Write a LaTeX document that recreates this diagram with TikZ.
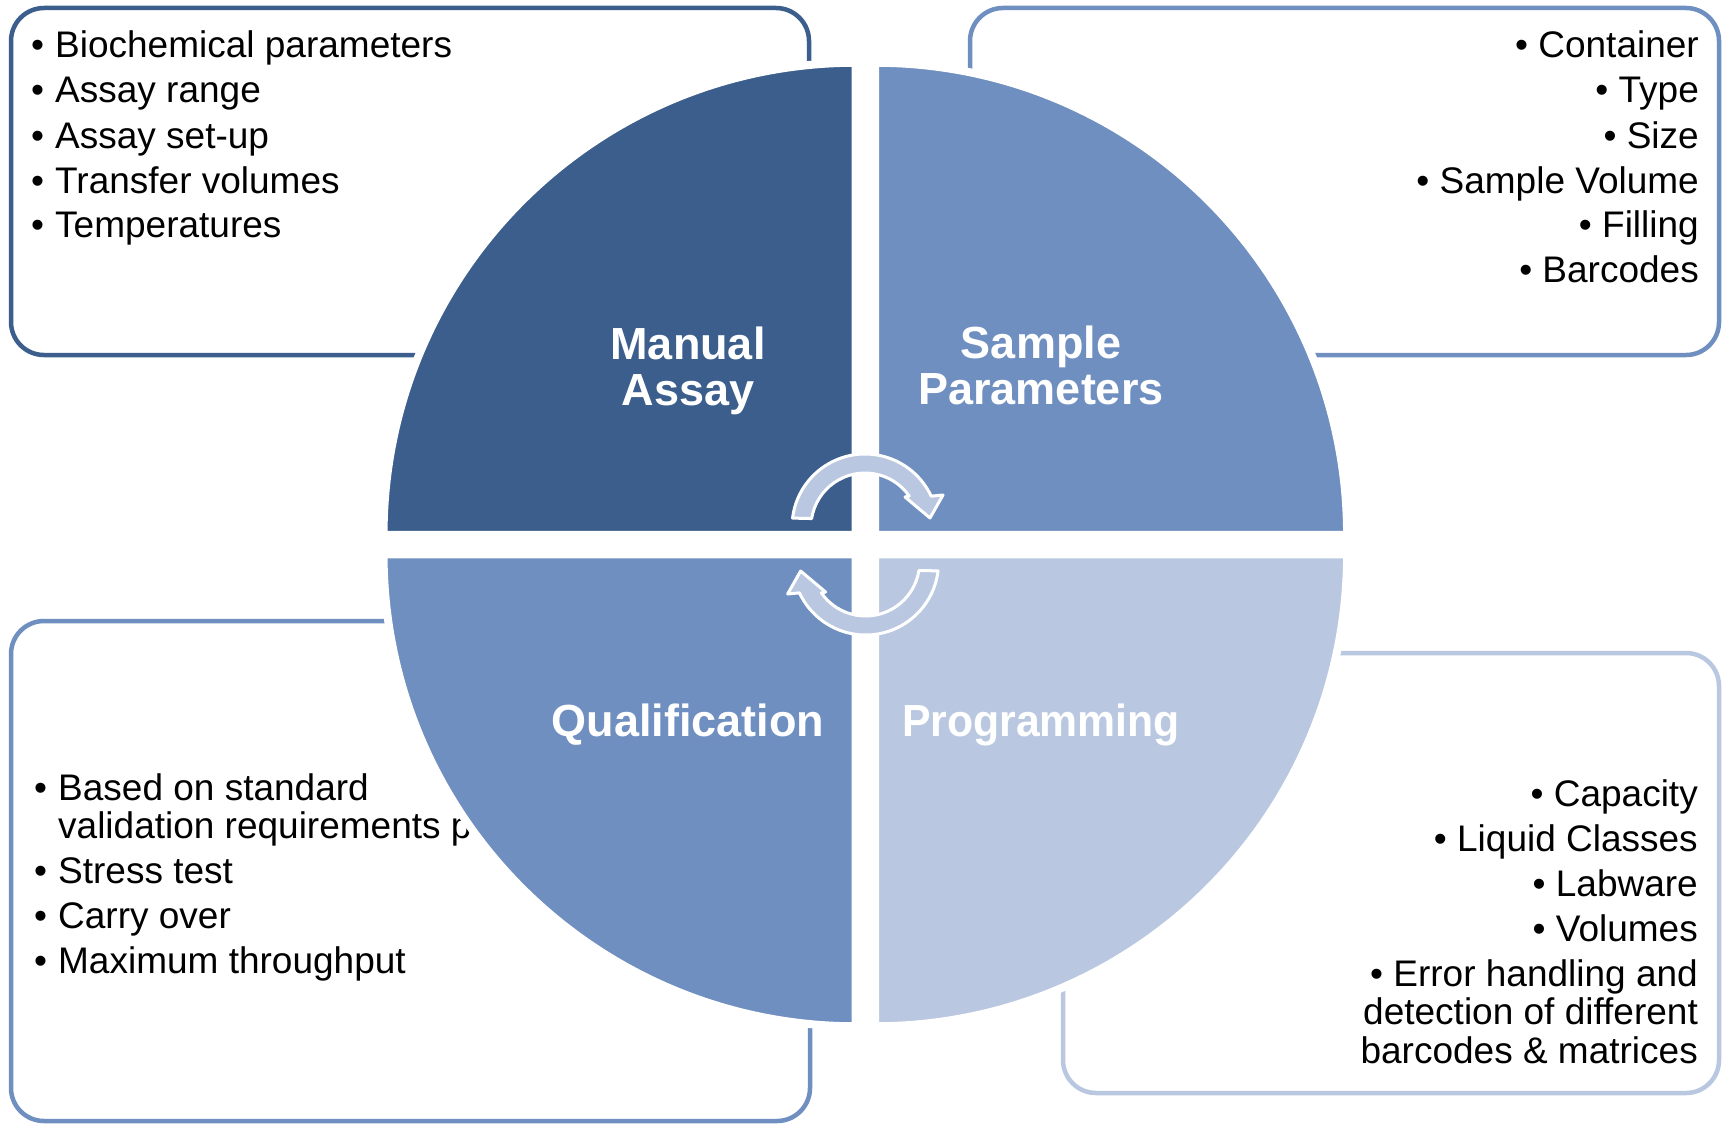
\documentclass[tikz,border=0pt]{standalone}
\usepackage{fontspec}
\setmainfont{Liberation Sans}
\usetikzlibrary{calc}
\definecolor{cdark}{HTML}{3B5E8C}
\definecolor{cmid}{HTML}{6F8FC0}
\definecolor{clight}{HTML}{B9C8E0}
\begin{document}
\begin{tikzpicture}[x=1pt,y=-1pt,
  box/.style={rounded corners=33pt, line width=4.5pt},
  quad/.style={draw=white, line width=8pt},
  listtxt/.style={inner sep=0pt, font=\fontsize{37}{38.5}\selectfont},
  qlabel/.style={text=white, font=\fontsize{45}{46}\selectfont\bfseries, align=center, inner sep=0pt},
  cyc/.style={fill=clight, draw=white, line width=3pt, line join=round}]
\useasboundingbox (0,0) rectangle (1723,1124);
\fill[white] (0,0) rectangle (1723,1124);

% boxes
\draw[box, cdark] (11,8) rectangle (809,355);
\draw[box, cmid] (970,8) rectangle (1719,355);
\draw[box, cmid] (11,621) rectangle (810,1121);
\draw[box, clight] (1063,653) rectangle (1719,1093);

% lists
\node[listtxt, anchor=base west] (tl) at (31,58) {\begin{tabular}[t]{@{}p{24pt}@{}l@{}}
•&Biochemical parameters\\[6.5pt]
•&Assay range\\[6.5pt]
•&Assay set-up\\[6.5pt]
•&Transfer volumes\\[6.5pt]
•&Temperatures
\end{tabular}};

\node[listtxt, anchor=base east] (tr) at (1699,58) {\begin{tabular}[t]{@{}r@{}}
• Container\\[6.5pt]
• Type\\[6.5pt]
• Size\\[6.5pt]
• Sample Volume\\[6.5pt]
• Filling\\[6.5pt]
• Barcodes
\end{tabular}};

\node[listtxt, anchor=base west] (bl) at (34,800) {\begin{tabular}[t]{@{}p{24pt}@{}l@{}}
•&Based on standard\\
&validation requirements p\\[6.5pt]
•&Stress test\\[6.5pt]
•&Carry over\\[6.5pt]
•&Maximum throughput
\end{tabular}};

\node[listtxt, anchor=base east] (br) at (1698,806) {\begin{tabular}[t]{@{}r@{}}
• Capacity\\[6.5pt]
• Liquid Classes\\[6.5pt]
• Labware\\[6.5pt]
• Volumes\\[6.5pt]
• Error handling and\\
detection of different\\
barcodes \& matrices
\end{tabular}};

% quadrants
\filldraw[quad, fill=cdark] (855.55,534.75) -- ++(-472,0) arc[start angle=180,end angle=270,radius=472] -- cycle;
\filldraw[quad, fill=cmid] (875.05,534.75) -- ++(0,-472) arc[start angle=270,end angle=360,radius=472] -- cycle;
\filldraw[quad, fill=clight] (875.05,554.25) -- ++(472,0) arc[start angle=0,end angle=90,radius=472] -- cycle;
\filldraw[quad, fill=cmid] (855.55,554.25) -- ++(0,472) arc[start angle=90,end angle=180,radius=472] -- cycle;

% labels
\node[qlabel] (manual) at (688,370.5) {Manual\\Assay};
\node[qlabel] (sample) at (1041,365) {Sample\\Parameters};
\node[qlabel] (qual) at (688,724.5) {Qualification};
\node[qlabel] (prog) at (1041,724.5) {\scalebox{0.95}[1]{Programming}};

% cycle arrows
\filldraw[cyc] (865,527) ++(187:73) arc[start angle=187,end angle=335,radius=73]
  -- (943,495) -- (930,518) -- (905,497) -- ($(865,527)+(325:54)$)
  arc[start angle=325,end angle=189,radius=54] -- cycle;
\begin{scope}[rotate around={180:(865.3,544.5)}]
\filldraw[cyc] (865,527) ++(187:73) arc[start angle=187,end angle=335,radius=73]
  -- (943,495) -- (930,518) -- (905,497) -- ($(865,527)+(325:54)$)
  arc[start angle=325,end angle=189,radius=54] -- cycle;
\end{scope}
\end{tikzpicture}
\end{document}
